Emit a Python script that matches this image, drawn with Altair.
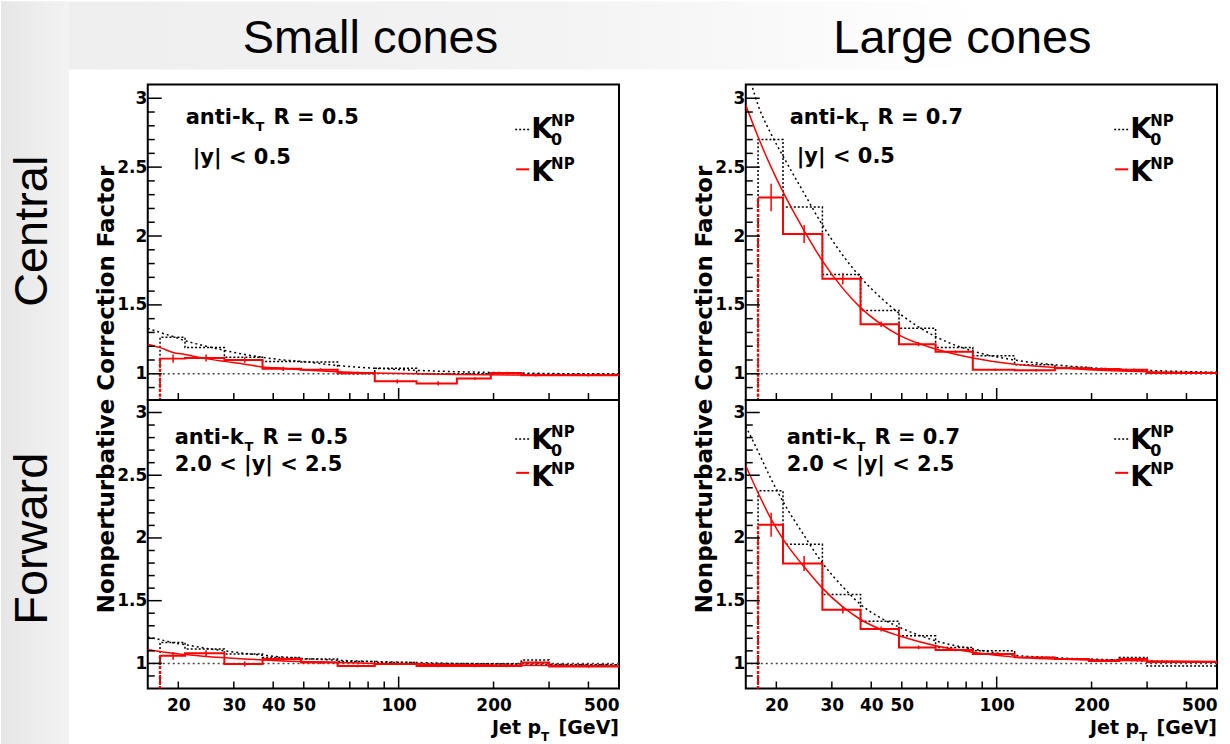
import altair as alt
import pandas as pd

# ---------------- data ----------------
EDGES = [17.5, 21, 28, 37, 49, 64, 84, 114, 153, 196, 245, 300, 500]
FIT_PT = [16, 17.5, 19.25, 21, 24.5, 28, 32.5, 37, 43, 49, 64, 84, 114, 153, 196, 300, 500]

# Central, small cones (R = 0.5)
K0_CS = [1.265, 1.19, 1.12, 1.09, 1.085, 1.0, 1.04, 1.0, 1.0, 1.005, 0.995, 0.995]
K_CS = [1.11, 1.115, 1.10, 1.036, 1.03, 1.005, 0.945, 0.93, 0.965, 1.005, 0.99, 0.99]
KERR_CS = [0.03, 0.025, 0.02, 0.015, 0.01, 0.01, 0.015, 0.015, 0.01, 0.01, 0.01, 0.01]
FIT0_CS = [1.33, 1.30, 1.27, 1.24, 1.20, 1.17, 1.14, 1.12, 1.10, 1.09, 1.06, 1.04, 1.025, 1.015, 1.01, 1.002, 0.998]
FIT_CS = [1.215, 1.19, 1.155, 1.14, 1.11, 1.09, 1.07, 1.05, 1.04, 1.03, 1.015, 1.005, 1.0, 0.995, 0.993, 0.99, 0.99]

# Central, large cones (R = 0.7)
K0_CL = [2.70, 2.21, 1.72, 1.46, 1.33, 1.19, 1.13, 1.065, 1.045, 1.035, 1.025, 1.01]
K_CL = [2.28, 2.015, 1.69, 1.36, 1.215, 1.16, 1.03, 1.025, 1.04, 1.035, 1.03, 1.005]
KERR_CL = [0.10, 0.065, 0.04, 0.02, 0.015, 0.01, 0.008, 0.008, 0.008, 0.008, 0.008, 0.008]
FIT0_CL = [3.25, 2.95, 2.74, 2.58, 2.31, 2.08, 1.86, 1.70, 1.55, 1.44, 1.27, 1.165, 1.10, 1.065, 1.045, 1.025, 1.01]
FIT_CL = [2.95, 2.72, 2.50, 2.32, 2.04, 1.82, 1.62, 1.48, 1.36, 1.28, 1.18, 1.115, 1.07, 1.045, 1.03, 1.015, 1.007]

# Forward, small cones (R = 0.5)
K0_FS = [1.167, 1.114, 1.074, 1.048, 1.035, 1.016, 1.008, 0.995, 0.995, 0.995, 1.027, 0.99]
K_FS = [1.06, 1.08, 0.995, 1.035, 1.008, 0.98, 0.995, 0.98, 0.98, 0.98, 1.008, 0.975]
KERR_FS = [0.03, 0.025, 0.02, 0.015, 0.012, 0.01, 0.01, 0.01, 0.01, 0.01, 0.01, 0.01]
FIT0_FS = [1.21, 1.19, 1.165, 1.15, 1.12, 1.10, 1.08, 1.065, 1.05, 1.04, 1.025, 1.015, 1.007, 1.0, 0.997, 0.993, 0.99]
FIT_FS = [1.11, 1.095, 1.08, 1.07, 1.055, 1.045, 1.035, 1.028, 1.02, 1.015, 1.008, 1.0, 0.995, 0.99, 0.987, 0.983, 0.98]

# Forward, large cones (R = 0.7)
K0_FL = [2.376, 1.95, 1.55, 1.335, 1.22, 1.127, 1.10, 1.048, 1.035, 1.027, 1.048, 0.98]
K_FL = [2.105, 1.797, 1.428, 1.274, 1.127, 1.106, 1.074, 1.048, 1.035, 1.02, 1.035, 1.012]
KERR_FL = [0.095, 0.06, 0.03, 0.02, 0.015, 0.01, 0.01, 0.008, 0.008, 0.008, 0.008, 0.008]
FIT0_FL = [2.89, 2.69, 2.47, 2.29, 2.02, 1.80, 1.61, 1.47, 1.36, 1.29, 1.18, 1.115, 1.065, 1.045, 1.035, 1.02, 1.008]
FIT_FL = [2.575, 2.36, 2.15, 1.99, 1.77, 1.60, 1.45, 1.35, 1.27, 1.22, 1.14, 1.088, 1.05, 1.035, 1.027, 1.02, 1.016]

HIST_BASE = 0.0
REF_LINE = [1.0]

X_LABELS = [20, 30, 40, 50, 100, 200, 500]
X_MAJOR = [100]
X_MINOR = [20, 30, 40, 50, 60, 70, 80, 90, 200, 300, 400]
Y_LABELS = [1, 1.5, 2, 2.5, 3]
Y_MINOR = [0.9, 1.1, 1.2, 1.3, 1.4, 1.6, 1.7, 1.8, 1.9, 2.1, 2.2, 2.3, 2.4,
           2.6, 2.7, 2.8, 2.9]

ROOT_FONT = "DejaVu Sans"
SLIDE_FONT = "Liberation Sans"
RED = "#ff0000"
W = 472
DUMMY = pd.DataFrame({"a": [0]})


def txt(s, x, y, size, font=ROOT_FONT, weight="bold", align="left", angle=None, color="black"):
    kw = dict(text=s, font=font, fontWeight=weight, fontSize=size, align=align,
              baseline="alphabetic", color=color)
    if angle is not None:
        kw["angle"] = angle
    return alt.Chart(DUMMY).mark_text(**kw).encode(x=alt.value(x), y=alt.value(y))


def seg(x1, x2, y, color, dash=None, width=2):
    kw = dict(color=color, strokeWidth=width)
    if dash is not None:
        kw["strokeDash"] = dash
    return alt.Chart(DUMMY).mark_rule(**kw).encode(
        x=alt.value(x1), x2=alt.value(x2), y=alt.value(y))


def panel(k0, k, kerr, fit0, fit, h, ymin, top, left, rlabel, ylabel, ann_x, ann_y1, ann_y2):
    xscale = alt.Scale(type="log", domain=[16, 500], nice=False)
    yscale = alt.Scale(domain=[ymin, 3.1], nice=False, zero=False)
    if top:
        xaxis = None
        yaxis = alt.Axis(values=Y_LABELS, format=".1~f", labelFont=ROOT_FONT,
                         labelFontWeight="bold", labelFontSize=17, labelPadding=1,
                         ticks=False, tickSize=0, domain=False, grid=False,
                         labelColor="black",
                         title="Nonperturbative Correction Factor", titleFont=ROOT_FONT,
                         titleFontWeight="bold", titleFontSize=23, titleAngle=270,
                         titleX=-34, titleY=305, titleAlign="center",
                         titleBaseline="alphabetic", titleColor="black")
    else:
        xaxis = alt.Axis(values=X_LABELS, format="d", labelFont=ROOT_FONT,
                         labelFontWeight="bold", labelFontSize=17, labelPadding=9,
                         ticks=False, tickSize=0, domain=False, grid=False,
                         labelOverlap=False, labelColor="black", title="")
        yaxis = alt.Axis(values=Y_LABELS, format=".1~f", labelFont=ROOT_FONT,
                         labelFontWeight="bold", labelFontSize=17, labelPadding=1,
                         ticks=False, tickSize=0, domain=False, grid=False,
                         labelColor="black", title="")

    def X(f):
        return alt.X(f, type="quantitative", scale=xscale, axis=xaxis)

    def Y(f):
        return alt.Y(f, type="quantitative", scale=yscale, axis=yaxis)

    layers = []

    if top and left:
        # slide background strips
        grad_left = alt.LinearGradient(gradient="linear", x1=0, x2=1, y1=0, y2=0, stops=[
            alt.GradientStop(color="#e6e6e6", offset=0), alt.GradientStop(color="#f3f3f3", offset=1)])
        grad_top = alt.LinearGradient(gradient="linear", x1=0, x2=1, y1=0, y2=0, stops=[
            alt.GradientStop(color="#eeeeee", offset=0), alt.GradientStop(color="#f3f3f3", offset=0.45),
            alt.GradientStop(color="#ffffff", offset=0.8)])
        layers.append(alt.Chart(DUMMY).mark_rect(color=grad_top).encode(
            x=alt.value(-147), x2=alt.value(1083), y=alt.value(-83), y2=alt.value(-15)))
        layers.append(alt.Chart(DUMMY).mark_rect(color=grad_left).encode(
            x=alt.value(-147), x2=alt.value(-79), y=alt.value(-83), y2=alt.value(661)))

    # reference line at 1
    layers.append(alt.Chart(pd.DataFrame({"v": REF_LINE})).mark_rule(
        color="#444444", strokeDash=[2, 3], strokeWidth=1.5).encode(y=Y("v")))

    # black dotted fit
    layers.append(alt.Chart(pd.DataFrame({"pt": FIT_PT, "v": fit0})).mark_line(
        color="black", strokeDash=[2, 3], strokeWidth=1.5, interpolate="monotone", clip=True
    ).encode(x=X("pt"), y=Y("v")))

    # black dotted histogram K0
    hx = [EDGES[0]] + EDGES
    hy = [HIST_BASE] + k0 + [k0[-1]]
    layers.append(alt.Chart(pd.DataFrame({"i": list(range(len(hx))), "pt": hx, "v": hy})).mark_line(
        color="black", strokeDash=[2, 2], strokeWidth=1.5, interpolate="step-after", clip=True
    ).encode(x=X("pt"), y=Y("v"), order=alt.Order("i:Q")))

    # red dotted left edge
    layers.append(alt.Chart(pd.DataFrame({"pt": [EDGES[0]], "lo": [HIST_BASE], "hi": [k[0]]})).mark_rule(
        color=RED, strokeDash=[3, 2], strokeWidth=2.5, clip=True
    ).encode(x=X("pt"), y=Y("lo"), y2="hi"))

    # red histogram K
    ry = k + [k[-1]]
    layers.append(alt.Chart(pd.DataFrame({"i": list(range(len(EDGES))), "pt": EDGES, "v": ry})).mark_line(
        color=RED, strokeWidth=2, interpolate="step-after", clip=True
    ).encode(x=X("pt"), y=Y("v"), order=alt.Order("i:Q")))

    # red error bars
    cen = [(a + b) / 2 for a, b in zip(EDGES[:-1], EDGES[1:])]
    layers.append(alt.Chart(pd.DataFrame({
        "pt": cen, "lo": [v - e for v, e in zip(k, kerr)], "hi": [v + e for v, e in zip(k, kerr)]
    })).mark_rule(color=RED, strokeWidth=1.5, clip=True).encode(x=X("pt"), y=Y("lo"), y2="hi"))

    # red fit
    layers.append(alt.Chart(pd.DataFrame({"pt": FIT_PT, "v": fit})).mark_line(
        color=RED, strokeWidth=1.5, interpolate="monotone", clip=True
    ).encode(x=X("pt"), y=Y("v")))

    # inward ticks
    layers.append(alt.Chart(pd.DataFrame({"v": Y_LABELS})).mark_rule(color="black", strokeWidth=1.5)
                  .encode(y=Y("v"), x=alt.value(0), x2=alt.value(14)))
    layers.append(alt.Chart(pd.DataFrame({"v": Y_MINOR})).mark_rule(color="black", strokeWidth=1.5)
                  .encode(y=Y("v"), x=alt.value(0), x2=alt.value(7)))
    layers.append(alt.Chart(pd.DataFrame({"v": X_MAJOR})).mark_rule(color="black", strokeWidth=1.5)
                  .encode(x=X("v"), y=alt.value(h), y2=alt.value(h - 12)))
    layers.append(alt.Chart(pd.DataFrame({"v": X_MINOR})).mark_rule(color="black", strokeWidth=1.5)
                  .encode(x=X("v"), y=alt.value(h), y2=alt.value(h - 7)))

    # annotation text
    layers.append(txt("anti-k", ann_x, ann_y1, 21))
    layers.append(txt("T", ann_x + 70, ann_y1 + 7, 13))
    layers.append(txt(rlabel, ann_x + 88, ann_y1, 21))
    layers.append(txt(ylabel, ann_x if not top else ann_x + 7, ann_y2, 21))

    # legend
    lx = 384 if left else 385
    if top:
        b0, b1, d0, d1 = 54, 97, 45, 85
    else:
        b0, b1, d0, d1 = 49, 86, 39, 73
    layers.append(seg(lx - 16, lx - 2, d0, "black", dash=[2, 2], width=1.5))
    layers.append(txt("K", lx, b0, 28))
    layers.append(txt("NP", lx + 20, b0 - 12, 15))
    layers.append(txt("0", lx + 20, b0 + 7, 16))
    layers.append(seg(lx - 15, lx - 2, d1, RED, width=2))
    layers.append(txt("K", lx, b1, 28))
    layers.append(txt("NP", lx + 20, b1 - 12, 15))

    if not top:
        layers.append(txt("[GeV]", W, h + 46, 19, align="right"))
        layers.append(txt("T", W - 70, h + 53, 12, align="right"))
        layers.append(txt("Jet p", W - 78, h + 46, 19, align="right"))

    # slide texts
    if top:
        layers.append(txt("Small cones" if left else "Large cones", 223 if left else 217, -32, 47,
                          font=SLIDE_FONT, weight="normal", align="center"))
    if left:
        layers.append(txt("Central" if top else "Forward", -101, 147 if top else 139, 47,
                          font=SLIDE_FONT, weight="normal", align="center", angle=270))

    return alt.layer(*layers).properties(width=W, height=h)


tl = panel(K0_CS, K_CS, KERR_CS, FIT0_CS, FIT_CS, 316, 0.81, True, True, "R = 0.5", "|y| < 0.5", 38, 40, 80)
tr = panel(K0_CL, K_CL, KERR_CL, FIT0_CL, FIT_CL, 316, 0.81, True, False, "R = 0.7", "|y| < 0.5", 44, 40, 79)
bl = panel(K0_FS, K_FS, KERR_FS, FIT0_FS, FIT_FS, 289, 0.80, False, True, "R = 0.5", "2.0 < |y| < 2.5", 27, 44, 71)
br = panel(K0_FL, K_FL, KERR_FL, FIT0_FL, FIT_FL, 289, 0.80, False, False, "R = 0.7", "2.0 < |y| < 2.5", 41, 44, 71)

chart = alt.concat(tl, tr, bl, br, columns=2, spacing={"row": 0, "column": 127}, bounds="flush").properties(
    padding=0
).configure_view(stroke="black", strokeWidth=2)

chart.save("out.html", embed_options={"renderer": "svg", "actions": False})
